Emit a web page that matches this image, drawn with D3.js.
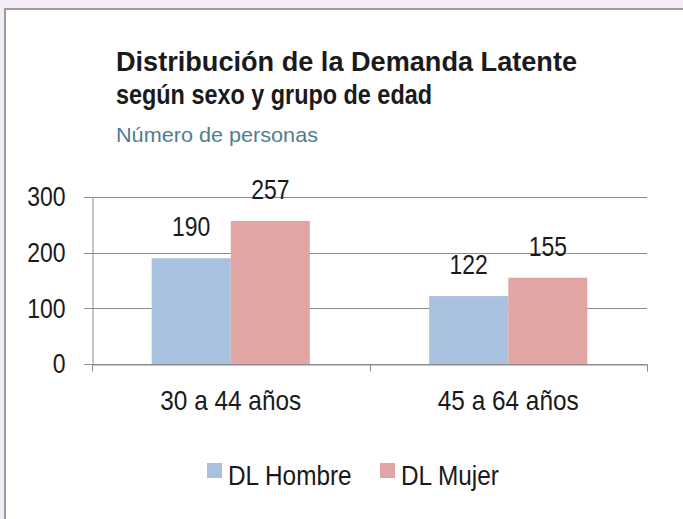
<!DOCTYPE html>
<html>
<head>
<meta charset="utf-8">
<script src="https://cdn.jsdelivr.net/npm/d3@7"></script>
<style>
  body { margin: 0; background: #f4ecf7; }
  svg { display: block; }
  text { font-family: "Liberation Sans", Arial, sans-serif; fill: #1a1a1a; }
</style>
</head>
<body>
<svg width="683" height="519"></svg>
<script>
// Data
const groups = ["30 a 44 años", "45 a 64 años"];
const seriesNames = ["DL Hombre", "DL Mujer"];
const hombre = [190, 122];
const mujer = [257, 155];
const yTicks = [0, 100, 200, 300];
const colors = ["#a7c1df", "#e1a5a4"];

const svg = d3.select("svg"),
    width = +svg.attr("width"),
    height = +svg.attr("height");

// the original uses a condensed face, squeeze the text to match
function narrow(sel, factor) {
    sel.each(function () {
        const w = this.getComputedTextLength();
        d3.select(this)
            .attr("textLength", w * factor)
            .attr("lengthAdjust", "spacingAndGlyphs");
    });
}

// white panel with grey frame
svg.append("rect")
    .attr("x", 5).attr("y", 9)
    .attr("width", width + 20).attr("height", height + 20)
    .attr("fill", "#ffffff")
    .attr("stroke", "#9c9c9c")
    .attr("stroke-width", 2);

// Titles
svg.append("text")
    .attr("x", 116).attr("y", 71)
    .attr("textLength", 461).attr("lengthAdjust", "spacingAndGlyphs")
    .style("font-weight", "bold").style("font-size", "27px")
    .text("Distribución de la Demanda Latente");
svg.append("text")
    .attr("x", 116).attr("y", 104)
    .attr("textLength", 316).attr("lengthAdjust", "spacingAndGlyphs")
    .style("font-weight", "bold").style("font-size", "27px")
    .text("según sexo y grupo de edad");
svg.append("text")
    .attr("x", 116).attr("y", 142)
    .attr("textLength", 202).attr("lengthAdjust", "spacingAndGlyphs")
    .style("font-size", "21px")
    .style("fill", "#4e7e90")
    .text("Número de personas");

// Scales
const x0 = d3.scaleBand()
    .domain(groups)
    .range([92, 647])
    .paddingInner(0.43)
    .paddingOuter(0.215);

const x1 = d3.scaleBand()
    .domain(seriesNames)
    .range([0, x0.bandwidth()]);

const y = d3.scaleLinear()
    .domain([0, 300])
    .range([364, 197]);

const color = d3.scaleOrdinal().domain(seriesNames).range(colors);

// gridlines
svg.append("g")
    .selectAll("line")
    .data(yTicks)
    .join("line")
    .attr("x1", 84).attr("x2", 647)
    .attr("y1", d => Math.round(y(d)) + 0.5)
    .attr("y2", d => Math.round(y(d)) + 0.5)
    .attr("stroke", "#8c8c8c");

// y axis
const yAxis = svg.append("g")
    .attr("transform", "translate(92.5,0)")
    .call(d3.axisLeft(y).tickValues(yTicks).tickSize(0).tickPadding(27));
yAxis.select(".domain").attr("stroke", "#8c8c8c");
yAxis.selectAll("text").style("font-size", "28px").attr("fill", "#1a1a1a")
    .call(narrow, 0.82);

// x axis
const xAxis = svg.append("g")
    .attr("transform", "translate(0," + (Math.round(y(0)) + 0.5) + ")")
    .call(d3.axisBottom(x0).tickSize(0).tickPadding(26));
xAxis.select(".domain").attr("stroke", "#8c8c8c");
xAxis.selectAll("text").style("font-size", "28px").attr("fill", "#1a1a1a")
    .call(narrow, 0.87);
// category separator ticks
const bounds = [92, 92 + x0.step(), 647];
xAxis.append("g").selectAll("line")
    .data(bounds)
    .join("line")
    .attr("x1", d => Math.round(d) + 0.5).attr("x2", d => Math.round(d) + 0.5)
    .attr("y1", 0).attr("y2", 7)
    .attr("stroke", "#8c8c8c");

// bars
const rows = groups.map((g, i) => ({
    group: g,
    values: [
        { key: "DL Hombre", value: hombre[i] },
        { key: "DL Mujer", value: mujer[i] }
    ]
}));

const gGroups = svg.append("g")
    .selectAll("g")
    .data(rows)
    .join("g")
    .attr("transform", d => "translate(" + x0(d.group) + ",0)");

gGroups.selectAll("rect")
    .data(d => d.values)
    .join("rect")
    .attr("x", d => x1(d.key))
    .attr("width", x1.bandwidth())
    .attr("y", d => y(d.value))
    .attr("height", d => y(0) - y(d.value))
    .attr("fill", d => color(d.key));

gGroups.selectAll("text")
    .data(d => d.values)
    .join("text")
    .attr("x", d => x1(d.key) + x1.bandwidth() / 2)
    .attr("y", d => y(d.value) - 22)
    .attr("text-anchor", "middle")
    .style("font-size", "28px")
    .text(d => d.value)
    .call(narrow, 0.82);

// legend
const legendX = [207, 380];
const legend = svg.append("g")
    .selectAll("g")
    .data(seriesNames)
    .join("g")
    .attr("transform", (d, i) => "translate(" + legendX[i] + ",463)");
legend.append("rect")
    .attr("width", 15).attr("height", 15)
    .attr("fill", d => color(d));
legend.append("text")
    .attr("x", 21).attr("y", 22)
    .style("font-size", "28px")
    .text(d => d)
    .call(narrow, 0.87);
</script>
</body>
</html>
